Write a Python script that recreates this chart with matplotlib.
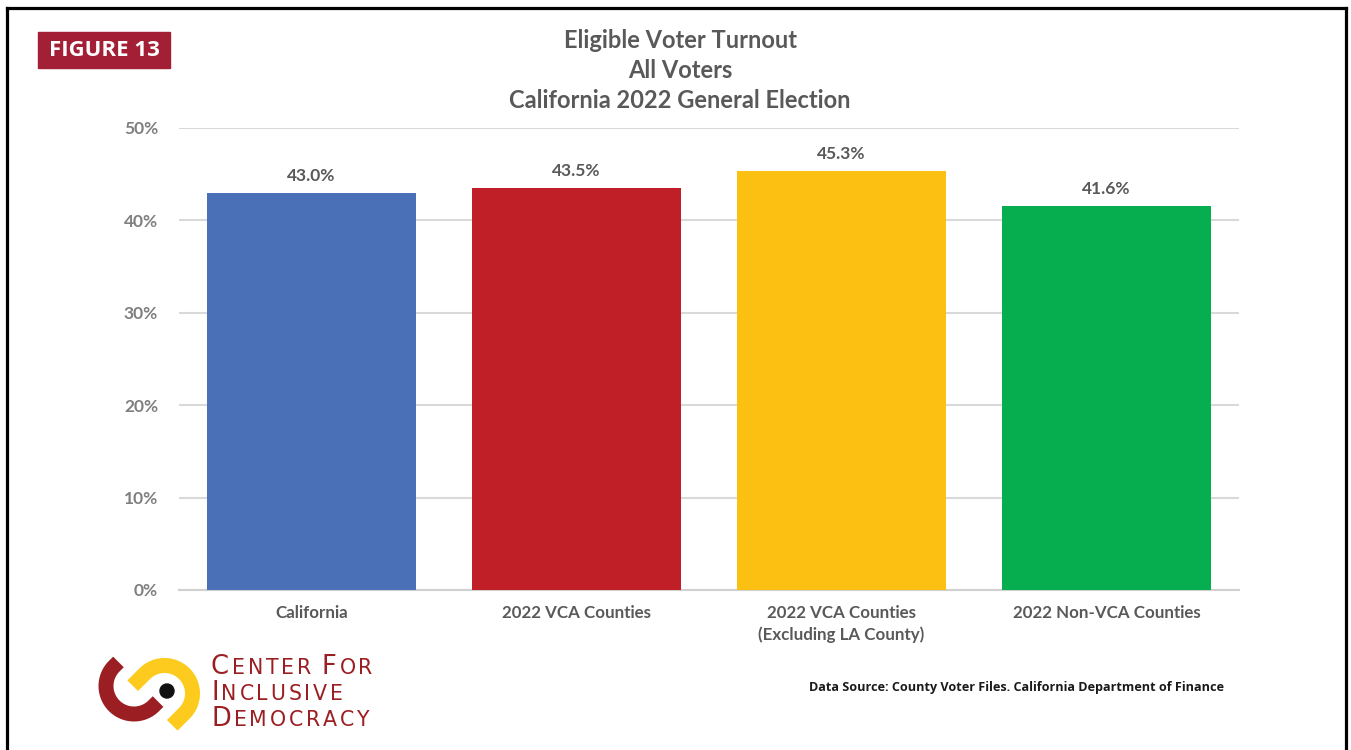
import numpy as np
import matplotlib.pyplot as plt
from matplotlib.patches import Rectangle
from matplotlib.lines import Line2D
from matplotlib.offsetbox import TextArea, HPacker, AnchoredOffsetbox

categories = ["California", "2022 VCA Counties",
              "2022 VCA Counties\n(Excluding LA County)", "2022 Non-VCA Counties"]
turnout = [43.0, 43.5, 45.3, 41.6]
bar_colors = ["#4A70B8", "#C01F28", "#FBC012", "#07AE4F"]
yticks = [0, 10, 20, 30, 40, 50]

title_lines = ["Eligible Voter Turnout", "All Voters", "California 2022 General Election"]
source = "Data Source: County Voter Files. California Department of Finance"

W, H = 1351, 750
fig = plt.figure(figsize=(W / 100, H / 100), dpi=100)
fig.patch.set_facecolor("white")


def fx(px):
    return px / W


def fy(py):
    return 1 - py / H


# chart area
ax = fig.add_axes([fx(179), fy(590), fx(1239) - fx(179), fy(128) - fy(590)])
x = np.arange(len(categories))
bars = ax.bar(x, turnout, width=0.79, color=bar_colors, zorder=3)
ax.set_xlim(-0.5, len(categories) - 0.5)
ax.set_ylim(0, 50)
ax.set_yticks(yticks)
ax.set_yticklabels([f"{t}%" for t in yticks], fontsize=12.5, fontweight="bold",
                   color="#7F7F7F", family="Lato")
ax.set_xticks(x)
ax.set_xticklabels(categories, fontsize=12.2, fontweight="bold", color="#595959",
                   family="Lato", linespacing=1.4)
ax.tick_params(axis="both", length=0)
ax.tick_params(axis="y", pad=15)
ax.tick_params(axis="x", pad=11)
ax.grid(axis="y", color="#D9D9D9", linewidth=1.5, zorder=0)
for side in ["top", "right", "left"]:
    ax.spines[side].set_visible(False)
ax.spines["bottom"].set_color("#D0D0D0")
ax.spines["bottom"].set_linewidth(1.5)

for b, v in zip(bars, turnout):
    ax.annotate(f"{v:.1f}%", (b.get_x() + b.get_width() / 2, v),
                xytext=(0, 6.5), textcoords="offset points", ha="center", va="bottom",
                fontsize=12.5, fontweight="bold", color="#595959", family="Lato")

# title
for i, line in enumerate(title_lines):
    fig.text(fx(680), fy(41 + 30 * i), line, ha="center", va="center",
             fontsize=17, fontweight="bold", color="#595959", family="Lato")

# frame (left, top, right)
frame = dict(color="black", linewidth=2.3, transform=fig.transFigure)
fig.add_artist(Line2D([fx(7), fx(7)], [0, fy(8)], **frame))
fig.add_artist(Line2D([fx(7), fx(1346)], [fy(8), fy(8)], **frame))
fig.add_artist(Line2D([fx(1346), fx(1346)], [0, fy(8)], **frame))

# figure badge
fig.add_artist(Rectangle((fx(38), fy(68)), fx(170) - fx(38), fy(32) - fy(68),
                         transform=fig.transFigure, color="#A31F36"))
fig.text(fx(104), fy(50), "FIGURE 13", ha="center", va="center", fontsize=16,
         fontweight="bold", color="white", family="Open Sans")

# source note
fig.text(fx(1224), fy(688), source, ha="right", va="center", fontsize=9.1,
         fontweight="bold", color="#1A1A1A", family="Open Sans")

# logo mark, drawn in pixel coordinates (y down)
lax = fig.add_axes([0, 0, 1, 1], zorder=5)
lax.set_xlim(0, W)
lax.set_ylim(H, 0)
lax.axis("off")


def u_shape(cx, cy, r, start, leg, color):
    # semicircle (start .. start+180 deg, screen angles) with straight legs
    t = np.radians(np.linspace(start, start + 180, 60))
    ax_ = cx + r * np.cos(t)
    ay_ = cy - r * np.sin(t)
    d = np.radians(start + 90)
    dx, dy = -np.cos(d) * leg, np.sin(d) * leg
    xs = np.concatenate([[ax_[0] + dx], ax_, [ax_[-1] + dx]])
    ys = np.concatenate([[ay_[0] + dy], ay_, [ay_[-1] + dy]])
    lax.plot(xs, ys, color=color, linewidth=10.8, solid_capstyle="butt",
             solid_joinstyle="round")


u_shape(164.5, 693.5, 28, -45, 17, "#FCCB1E")
u_shape(134, 686, 28, 135, 6, "#9B1E22")
lax.add_patch(plt.Circle((167, 691), 7, color="#111111"))

# logo wordmark in letter-spaced small caps
red = "#9B1E22"


def small_caps_line(words, ypx):
    props = dict(family="DejaVu Sans", fontweight="normal", color=red)
    parts = []
    for k, w in enumerate(words):
        if k:
            parts.append(TextArea(" ", textprops=dict(fontsize=12, **props)))
        parts.append(TextArea(w[0], textprops=dict(fontsize=18.5, **props)))
        for ch in w[1:]:
            parts.append(TextArea(ch, textprops=dict(fontsize=14.8, **props)))
    box = HPacker(children=parts, align="baseline", pad=0, sep=2.0)
    anchored = AnchoredOffsetbox(loc="lower left", child=box, pad=0, borderpad=0,
                                 frameon=False, bbox_to_anchor=(fx(211), fy(ypx)),
                                 bbox_transform=fig.transFigure)
    fig.add_artist(anchored)


small_caps_line(["CENTER", "FOR"], 680)
small_caps_line(["INCLUSIVE"], 706)
small_caps_line(["DEMOCRACY"], 732)

fig.savefig("out.png", dpi=100, facecolor="white")
